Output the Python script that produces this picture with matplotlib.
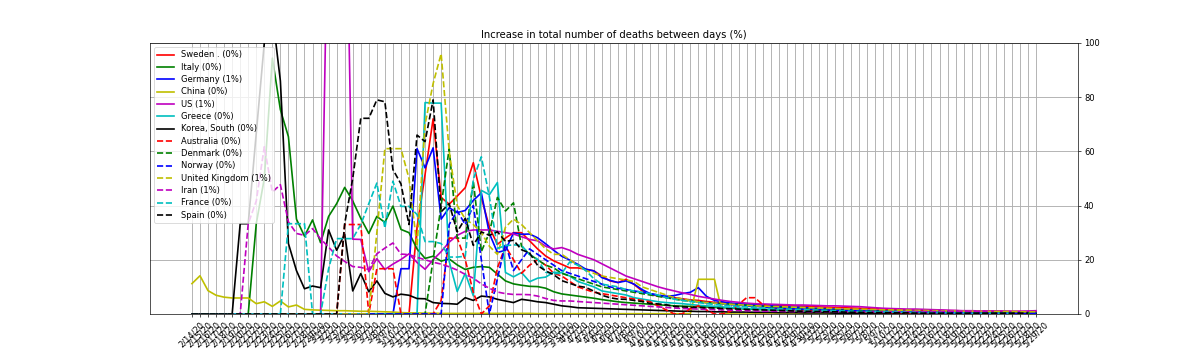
import matplotlib
matplotlib.use('Agg')
import matplotlib.pyplot as plt
import pandas as pd

# daily dates shown on the x axis (2/14/20 .. 5/29/20)
dates = [f"{d.month}/{d.day}/20" for d in pd.date_range('2020-02-14', periods=106)]

countries = ['Sweden .', 'Italy', 'Germany', 'China', 'US', 'Greece', 'Korea, South',
             'Australia', 'Denmark', 'Norway', 'United Kingdom', 'Iran', 'France', 'Spain']
last_pct = [0, 0, 1, 0, 1, 0, 0, 0, 0, 0, 1, 1, 0, 0]

sweden = [0]*28 + [32, 51.5, 72, 43, 40.5, 43.5, 46.6, 55.8, 43, 32, 25.7, 28, 30, 30, 27, 24, 21.4, 19.6,
          18.3, 17, 17, 16.5, 15.9, 14, 12.2, 11.6, 12.8, 10.9, 8.5, 7.3, 6.6, 6.3,
          6.0, 5.6, 5.2, 5.0, 4.6, 4.3, 4.0, 3.8, 3.6, 3.5, 3.4, 3.3, 3.2, 3.2, 3.1, 3.0, 2.9, 2.8, 2.6,
          2.5, 2.4, 2.3, 2.2, 2.1, 2.0, 1.9, 1.8, 1.7, 1.6, 1.5, 1.5, 1.4, 1.3, 1.3, 1.2, 1.2, 1.1, 1.1,
          1.0, 1.0, 1.0, 0.9, 0.9, 0.9, 0.8, 0.8]
italy = [0]*8 + [33.3, 50, 94.4, 75.4, 65.4, 35, 28.7, 34.7, 26.3, 36, 40.7, 46.7, 41.7, 35.3, 29.7, 36,
         33.8, 39.8, 31.2, 30, 24, 20.5, 21.3, 19.5, 20.3, 18.1, 16.4, 17.2, 17.5, 17.2, 14.7, 12.2, 11.1,
         10.6, 10.2, 10.1, 9.5, 8.2, 7.4, 7.0, 6.6, 6.2, 5.8, 5.3, 4.9, 4.5, 4.2, 4.0, 3.8, 3.6, 3.4, 3.2,
         3.0, 2.9, 2.8, 2.7, 2.6, 2.4, 2.3, 2.2, 2.0, 1.8, 1.7, 1.6, 1.5, 1.4, 1.3, 1.2, 1.1, 1.0, 1.0,
         0.9, 0.9, 0.8, 0.8, 0.7, 0.7, 0.6, 0.6, 0.6, 0.5, 0.5, 0.5, 0.4, 0.4, 0.4, 0.4, 0.3, 0.3, 0.3,
         0.3, 0.3, 0.3, 0.2, 0.2, 0.2, 0.2, 0.2]
germany = [0]*26 + [16.7, 16.7, 61, 53.9, 61.3, 35, 39.2, 37.4, 38.2, 41.9, 44.7, 29.7, 22.7, 23.5, 29.9,
           29.4, 29.5, 28.1, 25.9, 23.5, 21.3, 19.9, 18.3, 16.5, 15.9, 13.4, 12.4, 11.6, 12.2, 11.0, 9.0,
           7.5, 6.8, 6.5, 6.8, 7.5, 8.0, 9.7, 6.5, 5.0, 4.5, 4.0, 3.8, 3.6, 3.4, 3.2, 3.0, 2.8, 2.6, 2.5,
           2.4, 2.2, 2.0, 1.9, 1.8, 1.6, 1.5, 1.4, 1.3, 1.2, 1.1, 1.0, 1.0, 0.9, 0.9, 0.8, 0.8, 0.7, 0.7,
           0.6, 0.6, 0.6, 0.5, 0.5, 0.5, 0.5, 0.5, 0.5, 0.5, 0.5]
china = [11.2, 14.1, 8.6, 6.9, 6.2, 5.9, 5.9, 5.9, 3.8, 4.5, 2.8, 4.8, 2.6, 3.3, 1.7, 1.5, 1.4, 1.3,
         1.2, 1.2, 1.1, 1.0, 1.0, 0.9, 0.8, 0.7, 0.5, 0.4, 0.4, 0.3, 0.3] + [0.2]*12 + [0.1]*20 + \
        [12.8, 12.8, 12.8, 0.1] + [0.0]*39
us = [0]*17 + [167, 172, 191, 27.6, 27.5, 15.6, 20.4, 16.4, 18.4, 20.1, 22.2, 19, 16.5, 20, 23, 26.5, 29,
      30.5, 31, 31, 31, 30.5, 30, 29.5, 28.5, 27.5, 27, 25, 24, 24.5, 23.5, 22, 21, 20, 18.5, 17, 15.5,
      14, 13, 12, 11, 10, 9.2, 8.5, 7.8, 7.2, 6.5, 6, 5.5, 5, 4.6, 4.3, 4.0,
      3.8, 3.7, 3.6, 3.5, 3.4, 3.3, 3.3, 3.2, 3.1, 3.0, 3.0, 2.9, 2.8, 2.7, 2.5, 2.3, 2.1, 2.0, 1.9,
      1.8, 1.8, 1.7, 1.6, 1.5, 1.4, 1.3, 1.2, 1.2, 1.1, 1.1, 1.1, 1.1, 1.0, 1.0, 1.1, 1.2]
greece = [0]*29 + [78, 77.8, 77.8, 19.4, 8.3, 15, 6.7, 45.6, 44, 48.5, 15.3, 13.7, 15.3, 11.9, 13.2, 13.6,
          15.4, 15.2, 14, 12, 11, 10, 8.5, 8, 7.5, 7, 6, 5.5, 5, 4.5, 4.2, 4, 3.8, 3.5, 3.2, 3.0, 2.8,
          2.6, 2.4, 2.2, 2.0, 1.9, 1.8, 1.7, 1.6, 1.5, 1.4, 1.3, 1.2, 1.1, 1.0, 1.0, 0.9, 0.9, 0.8, 0.8,
          0.7, 0.7, 0.6, 0.6, 0.5, 0.5, 0.5, 0.4, 0.4, 0.4, 0.3, 0.3, 0.3, 0.3, 0.3, 0.3, 0.3, 0.3, 0.3,
          0.3, 0.3]
korea = [0]*6 + [33.3, 33.3, 66.7, 100, 111, 86, 26, 16, 9.3, 10.3, 9.7, 31, 23.5, 29.4, 8.5, 14.9, 8.2,
         12.2, 7.6, 6.3, 7.3, 6.9, 5.7, 5.6, 4.2, 3.9, 3.8, 3.6, 6.0, 5.0, 6.6, 6.3, 5.4, 4.8, 4.2, 5.4,
         5.0, 4.5, 4.2, 3.6, 3.0, 2.7, 2.3, 2.2, 2.1, 2.0, 1.9, 1.8, 1.7, 1.6, 1.5, 1.4, 1.3, 1.2, 1.1,
         1.0, 1.0, 0.9, 0.9, 0.8, 0.8, 0.7, 0.7, 0.7, 0.6, 0.6, 0.6, 0.5, 0.5, 0.5, 0.4, 0.4, 0.4, 0.4,
         0.3, 0.3, 0.3, 0.3, 0.3, 0.3, 0.3, 0.2, 0.2, 0.2] + [0.2]*16
australia = [0]*19 + [33, 33, 33, 0, 16.7, 16.7, 16.7, 0, 0, 0, 0, 0, 5, 28, 28, 20, 8, 0, 3, 17, 25,
             20, 15, 18, 20, 18, 15, 14, 12, 10, 9, 8, 7.5, 7, 6.5, 6, 5.5, 5, 4.5, 3, 1.5,
             0, 0, 2, 3, 1.5, 0, 0, 1, 3.5, 6, 6, 3.5, 2.5, 2, 1.8, 1.6, 1.5, 1.4, 1.3,
             1.2, 1.1, 1.0, 0.9, 0.8, 0.7, 0.6, 0.6, 0.5, 0.5, 0.4, 0.4, 0.4, 0.4, 0.4,
             0.3, 0.3, 0.3, 0.3, 0.3, 0.2, 0.2, 0.2, 0.2, 0.2, 0.2]
denmark = [0]*30 + [20, 40, 61, 28, 28, 49, 23, 30, 43, 38, 41, 25, 22, 20, 18, 17, 15, 14, 13, 12, 11,
           10, 9.5, 9, 8.5, 8, 7.5, 7, 6.5, 6, 5.5, 5, 4.8, 4.5, 4.2, 4.0, 3.8, 3.6, 3.4, 3.2, 3.0, 2.8,
           2.6, 2.4, 2.2, 2.0, 1.9, 1.8, 1.7, 1.6, 1.5, 1.4, 1.3, 1.2, 1.1, 1.0, 1.0, 0.9, 0.9, 0.8, 0.8,
           0.7, 0.7, 0.6, 0.6, 0.5, 0.5, 0.5, 0.4, 0.4, 0.4, 0.4, 0.3, 0.3, 0.3, 0.3]
norway = [0]*32 + [33, 38, 33, 40, 20, 0, 13, 26, 16, 20, 24, 22, 20, 18, 16, 15, 14, 13, 12, 11, 10,
          9.5, 9, 8.5, 8, 7.5, 7, 6.5, 6, 5.5, 5, 4.5, 4.2, 4.0, 3.8, 3.5, 3.2, 3.0, 2.8, 2.6, 2.4, 2.2,
          2.0, 1.9, 1.8, 1.7, 1.6, 1.5, 1.4, 1.3, 1.2, 1.1, 1.0, 0.9, 0.8, 0.8, 0.7, 0.7, 0.6, 0.6, 0.5,
          0.5, 0.4, 0.4, 0.4, 0.3, 0.3, 0.3, 0.3, 0.3, 0.3, 0.3, 0.3, 0.3]
uk = [0]*23 + [30, 61, 61, 61, 50, 25, 70, 85, 96, 60, 40, 35, 33, 30, 25, 22, 32, 35, 33, 30, 27, 24,
      22, 22, 20, 18, 16, 15, 14, 13.5, 13, 12.5, 12, 10, 9, 8, 7, 6, 5.5, 5, 4.5, 4.2, 4.0, 3.8, 3.6,
      3.4, 3.2, 3.0, 2.9, 2.8, 2.7, 2.6, 2.5, 2.4, 2.3, 2.2, 2.1, 2.0, 1.9, 1.8, 1.8, 1.7, 1.6, 1.5, 1.5,
      1.4, 1.4, 1.3, 1.3, 1.2, 1.2, 1.1, 1.1, 1.0, 1.0, 1.0, 0.9, 0.9, 0.9, 0.9, 0.8, 0.8, 0.8]
iran = [0]*7 + [33.3, 41.7, 61.7, 45, 47.7, 34, 29.7, 29, 31.5, 27.7, 24.7, 21.4, 19.4, 17.5, 17.2, 16.4,
        22.2, 24.3, 26.2, 22.1, 21.9, 20.9, 20, 19.1, 18.4, 17.4, 16.2, 14.6, 13.2, 11.1, 9.5, 8.1, 7.5,
        7.2, 7.2, 7.1, 6.6, 5.7, 5.0, 4.8, 4.8, 4.6, 4.4, 4.2, 4.0, 3.8, 3.6, 3.4, 3.2, 3.0, 2.8, 2.6,
        2.4, 2.2, 2.0, 1.9, 1.8, 1.7, 1.6, 1.5, 1.4, 1.3, 1.2, 1.1, 1.0, 1.0, 1.0, 0.9, 0.9, 0.9, 0.8,
        0.8, 0.8, 0.8, 0.8, 0.8, 0.8, 0.8, 0.8, 0.8, 0.8, 0.8, 0.8, 0.9, 0.9, 0.9, 0.9, 1.0, 1.0, 1.0,
        1.0, 1.0, 1.0]
france = [0]*12 + [33.3, 33.3, 33.3, 0, 0, 16.7, 27.8, 27.8, 27.8, 33, 40.7, 48.3, 31.7, 49, 39.7, 39.7,
          36.7, 26.7, 26.7, 26, 21, 21, 21.3, 49.7, 58, 43.3, 24.2, 25.2, 25.5, 25.3, 21.9, 20.2, 15.4,
          14.9, 15, 19.2, 18, 16, 13, 11, 10.5, 10, 9, 8.5, 8, 7.5, 7, 6, 5.5, 5, 4.6, 4.2, 3.8, 3.5, 3.2,
          3.0, 2.8, 2.6, 2.4, 2.2, 2.0, 1.9, 1.8, 1.7, 1.6, 1.5, 1.4, 1.3, 1.2, 1.1, 1.0, 0.9, 0.9, 0.8,
          0.8, 0.7, 0.7, 0.6, 0.6, 0.5, 0.5, 0.5, 0.4, 0.4, 0.4, 0.3, 0.3, 0.3, 0.3, 0.3, 0.3]
spain = [0]*19 + [33.3, 50, 72.2, 72.2, 79, 78.3, 53.3, 48, 33, 66, 63.6, 79, 37.7, 40.7, 30.3, 35.3,
         25.3, 30.3, 29, 30.3, 26.8, 27.2, 23.7, 22.5, 17.9, 15.9, 14.5, 12.3, 11.3, 10.3, 9.8, 8.4, 6.9,
         6.0, 5.5, 5.4, 5.0, 4.6, 3.9, 3.7, 3.4, 2.8, 2.6, 2.5, 2.4, 2.3, 2.2, 2.0, 1.9, 1.8, 1.7, 1.6,
         1.5, 1.4, 1.3, 1.2, 1.1, 1.0, 0.9, 0.9, 0.8, 0.8, 0.7, 0.6, 0.6, 0.5, 0.5, 0.5, 0.4, 0.4, 0.4] + \
        [0.3]*15

series = [sweden, italy, germany, china, us, greece, korea,
          australia, denmark, norway, uk, iran, france, spain]
styles = ['r-', 'g-', 'b-', 'y-', 'm-', 'c-', 'k-',
          'r--', 'g--', 'b--', 'y--', 'm--', 'c--', 'k--']

plt.rcParams['font.size'] = 10
plt.rcParams['lines.linewidth'] = 2.0

fig, ax = plt.subplots(figsize=(1198/60, 358/60), dpi=60)
fig.subplots_adjust(left=0.125, right=0.9, top=0.88, bottom=0.123)

for name, vals, st, pct in zip(countries, series, styles, last_pct):
    ax.plot(dates[:len(vals)], vals, st, label=f"{name} ({pct}%)")

ax.set_ylim(0, 100)
ax.yaxis.tick_right()
ax.grid(True, linewidth=1.1)
ax.set_title('Increase in total number of deaths between days (%)')
plt.setp(ax.get_xticklabels(), rotation=45)
ax.legend(loc='upper left', labelspacing=0.4)

fig.savefig('out.png', dpi=60)
